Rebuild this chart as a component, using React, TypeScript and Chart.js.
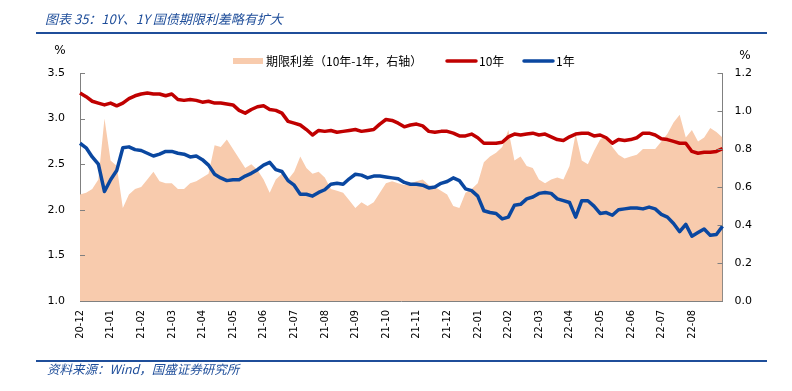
import React, { useEffect, useRef } from 'react';
import { Chart, registerables } from 'chart.js';

Chart.register(...registerables);

// Month tick labels (one every 5 samples)
const monthLabels = [
  '20-12', '21-01', '21-02', '21-03', '21-04', '21-05', '21-06', '21-07', '21-08', '21-09', '21-10',
  '21-11', '21-12', '22-01', '22-02', '22-03', '22-04', '22-05', '22-06', '22-07', '22-08',
];
const SAMPLES_PER_MONTH = 5;

// 10Y government bond yield (%), left axis
const yield10y = [
  3.28, 3.24, 3.19, 3.17, 3.15, 3.17, 3.14, 3.17, 3.22, 3.25, 3.27, 3.28, 3.27, 3.27, 3.25, 3.27, 3.21, 3.20, 3.21, 3.20, 3.18, 3.19, 3.17, 3.17, 3.16, 3.15, 3.09,
  3.06, 3.10, 3.13, 3.14, 3.10, 3.09, 3.06, 2.97, 2.95, 2.93, 2.88, 2.82, 2.87, 2.86, 2.87, 2.85, 2.86, 2.87, 2.88, 2.86, 2.87, 2.88, 2.94, 2.99, 2.98, 2.95,
  2.91, 2.93, 2.94, 2.92, 2.86, 2.85, 2.86, 2.86, 2.84, 2.81, 2.81, 2.83, 2.79, 2.73, 2.73, 2.73, 2.74, 2.80, 2.83, 2.82, 2.83, 2.84, 2.82, 2.83, 2.80, 2.77,
  2.76, 2.80, 2.83, 2.84, 2.84, 2.81, 2.82, 2.79, 2.73, 2.77, 2.76, 2.77, 2.79, 2.84, 2.84, 2.82, 2.78, 2.77, 2.75, 2.73, 2.73, 2.64, 2.62, 2.63, 2.63, 2.64, 2.67,
];

// 1Y government bond yield (%), left axis
const yield1y = [
  2.73, 2.68, 2.58, 2.50, 2.20, 2.33, 2.43, 2.68, 2.69, 2.66, 2.65, 2.62, 2.59, 2.61, 2.64, 2.64, 2.62, 2.61, 2.58, 2.59, 2.55, 2.49, 2.39, 2.35, 2.32, 2.33, 2.33,
  2.37, 2.40, 2.44, 2.49, 2.52, 2.44, 2.42, 2.32, 2.27, 2.17, 2.17, 2.15, 2.19, 2.22, 2.28, 2.29, 2.28, 2.34, 2.39, 2.38, 2.35, 2.37, 2.37, 2.36, 2.35, 2.34,
  2.30, 2.28, 2.28, 2.27, 2.24, 2.25, 2.29, 2.31, 2.35, 2.32, 2.23, 2.21, 2.15, 1.99, 1.97, 1.96, 1.90, 1.92, 2.05, 2.06, 2.12, 2.14, 2.18, 2.19, 2.18, 2.12,
  2.10, 2.08, 1.92, 2.10, 2.10, 2.04, 1.96, 1.97, 1.94, 2.00, 2.01, 2.02, 2.02, 2.01, 2.03, 2.01, 1.95, 1.92, 1.85, 1.76, 1.84, 1.71, 1.75, 1.79, 1.72, 1.73, 1.82,
];

// Term spread 10Y-1Y (%), right axis
const spread = [
  0.56, 0.57, 0.59, 0.64, 0.96, 0.74, 0.71, 0.49, 0.56, 0.59, 0.60, 0.64, 0.68, 0.63, 0.62, 0.62, 0.59, 0.59, 0.62, 0.63, 0.65, 0.67, 0.82, 0.81, 0.85, 0.80, 0.75,
  0.70, 0.72, 0.69, 0.64, 0.57, 0.64, 0.67, 0.64, 0.68, 0.76, 0.70, 0.67, 0.68, 0.65, 0.59, 0.58, 0.57, 0.53, 0.49, 0.52, 0.50, 0.52, 0.57, 0.62, 0.63, 0.62,
  0.61, 0.62, 0.63, 0.64, 0.61, 0.60, 0.58, 0.56, 0.50, 0.49, 0.57, 0.59, 0.62, 0.73, 0.76, 0.78, 0.81, 0.90, 0.74, 0.76, 0.71, 0.70, 0.64, 0.62, 0.64, 0.65,
  0.64, 0.71, 0.88, 0.74, 0.72, 0.79, 0.85, 0.87, 0.81, 0.77, 0.75, 0.76, 0.77, 0.80, 0.80, 0.80, 0.84, 0.88, 0.94, 0.98, 0.86, 0.90, 0.84, 0.86, 0.91, 0.89, 0.86,
];

const seriesNames = ['期限利差（10年-1年，右轴）', '10年', '1年'];
const titleText = '图表 35：10Y、1Y 国债期限利差略有扩大';
const sourceText = '资料来源：Wind，国盛证券研究所';
const unitText = '%';

const categories = yield10y.map((_, i) =>
  i % SAMPLES_PER_MONTH === 0 ? monthLabels[i / SAMPLES_PER_MONTH] ?? '' : ''
);

const BLUE_DARK = '#1F4E9A';
const AXIS_GRAY = '#808080';
const CJK = "'Noto Sans CJK SC', 'Noto Sans', sans-serif";

const decorPlugin = {
  id: 'decor',
  afterDraw(chart: any) {
    const ctx = chart.ctx as CanvasRenderingContext2D;
    const area = chart.chartArea;
    ctx.save();

    // Title
    ctx.fillStyle = BLUE_DARK;
    ctx.font = `italic 13px ${CJK}`;
    ctx.textBaseline = 'middle';
    ctx.textAlign = 'left';
    ctx.fillText(titleText, 45, 19);

    // Rules
    ctx.strokeStyle = BLUE_DARK;
    ctx.lineWidth = 2;
    ctx.beginPath();
    ctx.moveTo(36, 33);
    ctx.lineTo(767, 33);
    ctx.moveTo(36, 361);
    ctx.lineTo(767, 361);
    ctx.stroke();

    // Source
    ctx.font = `italic 12.5px ${CJK}`;
    ctx.fillText(sourceText, 47, 369);

    // Units
    ctx.fillStyle = '#000';
    ctx.font = "12px 'DejaVu Sans', sans-serif";
    ctx.textAlign = 'center';
    ctx.fillText(unitText, 60, 51);
    ctx.fillText(unitText, 745, 56);

    // Inward tick marks
    ctx.strokeStyle = AXIS_GRAY;
    ctx.lineWidth = 1;
    const yScale = chart.scales.y;
    const y1Scale = chart.scales.y1;
    ctx.beginPath();
    yScale.ticks.forEach((t: any) => {
      const py = Math.round(yScale.getPixelForValue(t.value)) + 0.5;
      ctx.moveTo(area.left, py);
      ctx.lineTo(area.left + 5, py);
    });
    y1Scale.ticks.forEach((t: any) => {
      const py = Math.round(y1Scale.getPixelForValue(t.value)) + 0.5;
      ctx.moveTo(area.right - 5, py);
      ctx.lineTo(area.right, py);
    });
    ctx.stroke();

    // Legend
    const ds = chart.data.datasets;
    const legendX = [233, 446, 523];
    const ly = 61;
    ctx.font = `12px ${CJK}`;
    ctx.textAlign = 'left';
    ctx.textBaseline = 'middle';
    ds.forEach((d: any, i: number) => {
      const x = legendX[i];
      if (d.fill) {
        ctx.fillStyle = d.backgroundColor;
        ctx.fillRect(x, ly - 3, 30, 6);
      } else {
        ctx.strokeStyle = d.borderColor;
        ctx.lineWidth = 3.5;
        ctx.lineCap = 'round';
        ctx.beginPath();
        ctx.moveTo(x + 1, ly);
        ctx.lineTo(x + 30, ly);
        ctx.stroke();
      }
      ctx.fillStyle = '#000';
      ctx.fillText(d.label, x + 33, ly);
    });

    ctx.restore();
  },
};

export default function App() {
  const canvasRef = useRef<HTMLCanvasElement | null>(null);

  useEffect(() => {
    if (!canvasRef.current) return;
    const tickFont = { family: "'DejaVu Sans', sans-serif", size: 11 };
    const chart = new Chart(canvasRef.current, {
      type: 'line',
      data: {
        labels: categories,
        datasets: [
          {
            label: seriesNames[0],
            data: spread,
            yAxisID: 'y1',
            fill: 'start',
            backgroundColor: '#F8CBAD',
            borderColor: '#F8CBAD',
            borderWidth: 0,
            pointRadius: 0,
            order: 3,
          },
          {
            label: seriesNames[1],
            data: yield10y,
            yAxisID: 'y',
            fill: false,
            borderColor: '#C00000',
            backgroundColor: '#C00000',
            borderWidth: 3.5,
            pointRadius: 0,
            order: 2,
          },
          {
            label: seriesNames[2],
            data: yield1y,
            yAxisID: 'y',
            fill: false,
            borderColor: '#0A47A0',
            backgroundColor: '#0A47A0',
            borderWidth: 3.5,
            pointRadius: 0,
            order: 1,
          },
        ],
      },
      options: {
        responsive: false,
        animation: false,
        devicePixelRatio: 1,
        layout: { padding: { top: 73, left: 0, right: 0, bottom: 0 } },
        elements: { line: { tension: 0, borderJoinStyle: 'round' }, point: { radius: 0 } },
        plugins: {
          legend: { display: false },
          tooltip: { enabled: false },
          title: { display: false },
        },
        scales: {
          x: {
            type: 'category',
            grid: { display: false, drawTicks: false },
            border: { display: true, color: AXIS_GRAY, width: 1 },
            ticks: {
              autoSkip: false,
              minRotation: 90,
              maxRotation: 90,
              padding: 9,
              color: '#000',
              font: { family: "'Liberation Sans Narrow', 'DejaVu Sans Condensed', 'Liberation Sans', sans-serif", size: 11 },
            },
            afterFit: (s: any) => {
              s.height = 90;
            },
          },
          y: {
            position: 'left',
            min: 1,
            max: 3.5,
            grid: { display: false, drawTicks: false },
            border: { display: true, color: AXIS_GRAY, width: 1 },
            ticks: {
              stepSize: 0.5,
              padding: 15,
              color: '#000',
              font: tickFont,
              callback: (v: any) => Number(v).toFixed(1),
            },
            afterFit: (s: any) => {
              s.width = 80;
            },
          },
          y1: {
            position: 'right',
            min: 0,
            max: 1.2,
            grid: { display: false, drawTicks: false },
            border: { display: true, color: AXIS_GRAY, width: 1 },
            ticks: {
              stepSize: 0.2,
              padding: 12,
              color: '#000',
              font: tickFont,
              callback: (v: any) => Number(v).toFixed(1),
            },
            afterFit: (s: any) => {
              s.width = 69.5;
            },
          },
        },
      },
      plugins: [decorPlugin],
    });
    return () => chart.destroy();
  }, []);

  return (
    <div style={{ position: 'absolute', left: 0, top: 0, width: 792, height: 391, background: '#fff' }}>
      <canvas ref={canvasRef} width={792} height={391} style={{ display: 'block' }} />
    </div>
  );
}
